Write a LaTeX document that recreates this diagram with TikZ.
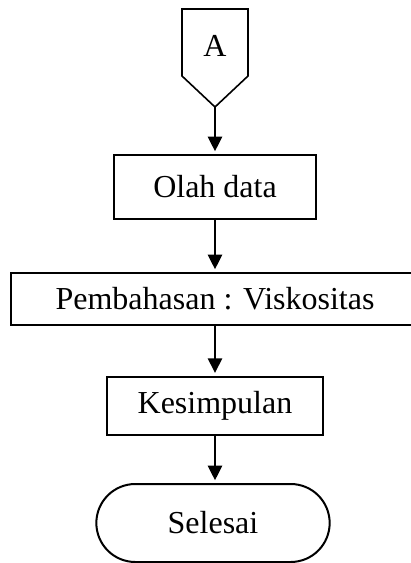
\documentclass[tikz,border=0pt]{standalone}
\usepackage{fontspec}
\setmainfont{Liberation Serif}
\usetikzlibrary{arrows.meta,shapes.misc}

\tikzset{
	box/.style={draw, line width=1.5pt, inner sep=0pt, font=\fontsize{24}{28}\selectfont},
	term/.style={box, rounded rectangle, rounded rectangle arc length=180},
	flow/.style={line width=2pt, shorten >=2pt, -{Triangle[length=11pt,width=10.5pt]}}
}

\begin{document}
\begin{tikzpicture}[x=0.75pt, y=-0.75pt]
		\useasboundingbox (0,0) rectangle (410,563);
		% penghubung A
		\node[font=\fontsize{24}{28}\selectfont] (A) at (215,46) {A};
		\coordinate (Atip) at (215,107);
		\draw[line width=1.2pt] (182,9) -- (248,9) -- (248,76) -- (Atip) -- (182,76) -- cycle;
		% langkah
		\node[box, minimum width=152pt, minimum height=48pt] (olah) at (215,187) {Olah data};
		\node[box, minimum width=306pt, minimum height=39pt] (bahas) at (215,299) {Pembahasan : Viskositas};
		\node[box, minimum width=162pt, minimum height=44pt] (simpul) at (215,406) {Kesimpulan};
		\node[term, minimum width=175pt, minimum height=58.5pt] (selesai) at (213,523) {Selesai};
		% panah
		\draw[flow] (Atip) -- (olah);
		\draw[flow] (olah) -- (bahas);
		\draw[flow] (bahas) -- (simpul);
		\draw[flow] (simpul) -- (selesai.north -| simpul);
		\end{tikzpicture}
\end{document}
